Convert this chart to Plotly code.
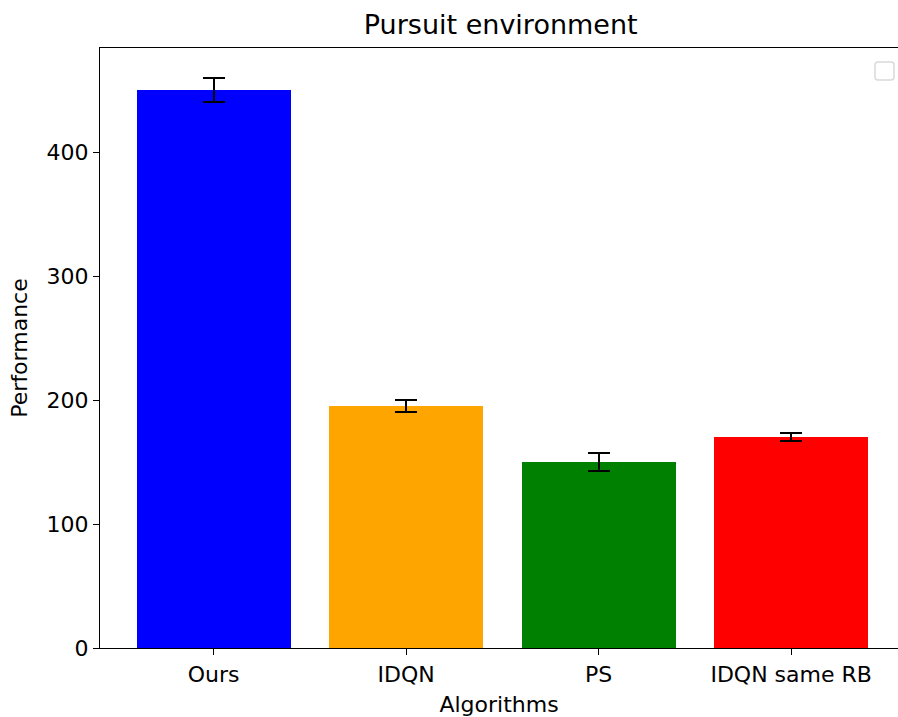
import plotly.graph_objects as go

categories = ["Ours", "IDQN", "PS", "IDQN same RB"]
performance = [450, 195, 150, 170]
errors = [10, 5, 7, 3]
colors = ["#0000ff", "#ffa500", "#008000", "#ff0000"]
y_ticks = [0, 100, 200, 300, 400]

fig = go.Figure()
fig.add_trace(go.Bar(
    x=list(range(len(categories))),
    y=performance,
    width=0.8,
    marker=dict(color=colors, line=dict(width=0)),
    error_y=dict(type="data", array=errors, color="black", thickness=2, width=11),
    showlegend=False,
))

font = dict(family="DejaVu Sans", size=22, color="black")
fig.update_layout(
    width=898, height=717,
    margin=dict(l=100, r=0, t=48, b=69),
    plot_bgcolor="white", paper_bgcolor="white",
    font=font,
    title=dict(text="Pursuit environment", x=0.5576, xanchor="center", y=1 - 25/717, yanchor="middle",
               font=dict(family="DejaVu Sans", size=27, color="black")),
    bargap=0,
    xaxis=dict(
        range=[-0.59, 3.555],
        tickvals=list(range(len(categories))), ticktext=categories,
        showline=True, linecolor="black", linewidth=1.3, mirror=True,
        ticks="outside", ticklen=6, tickcolor="black",
        showgrid=False, zeroline=False,
        title=dict(text="Algorithms", standoff=12, font=font),
    ),
    yaxis=dict(
        range=[0, 483.9],
        tickvals=y_ticks,
        showline=True, linecolor="black", linewidth=1.3,
        ticks="outside", ticklen=6, tickcolor="black",
        showgrid=False, zeroline=False,
        title=dict(text="Performance", standoff=12, font=font),
    ),
)

# empty legend box (upper right), paper coords relative to plot area (100..898, 48..648)
px0, px1 = (875 - 100) / 798, (894 - 100) / 798
py_top, py_bot = 1 - (62 - 48) / 600, 1 - (80 - 48) / 600
r = 3 / 798
ry = 3 / 600
path = (f"M {px0 + r},{py_top} L {px1 - r},{py_top} Q {px1},{py_top} {px1},{py_top - ry} "
        f"L {px1},{py_bot + ry} Q {px1},{py_bot} {px1 - r},{py_bot} "
        f"L {px0 + r},{py_bot} Q {px0},{py_bot} {px0},{py_bot + ry} "
        f"L {px0},{py_top - ry} Q {px0},{py_top} {px0 + r},{py_top} Z")
fig.add_shape(type="path", xref="paper", yref="paper", path=path,
              line=dict(color="#d9d9d9", width=1.5), fillcolor="rgba(255,255,255,0.8)")

fig.write_html("out.html", config={"displayModeBar": False},
               post_script="document.body.style.margin='0';document.body.style.overflow='hidden';")
